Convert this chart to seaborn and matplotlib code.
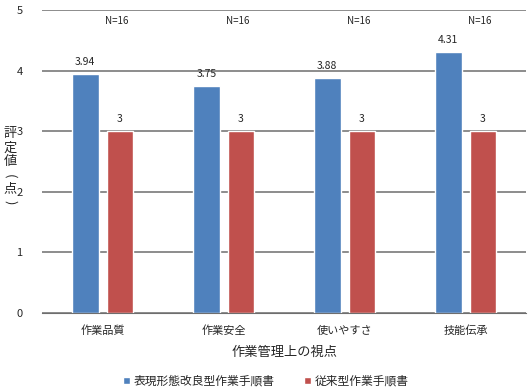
import pandas as pd
import seaborn as sns
import matplotlib.pyplot as plt

categories = ["作業品質", "作業安全", "使いやすさ", "技能伝承"]
series_names = ["表現形態改良型作業手順書", "従来型作業手順書"]
improved = [3.94, 3.75, 3.88, 4.31]
conventional = [3, 3, 3, 3]
n_labels = ["N=16", "N=16", "N=16", "N=16"]
colors = ["#4F81BD", "#C0504D"]

df = pd.DataFrame({
    "cat": categories * 2,
    "series": [series_names[0]] * 4 + [series_names[1]] * 4,
    "value": improved + conventional,
})

sns.set_style("white")
plt.rcParams['font.family'] = ['Noto Sans CJK JP', 'DejaVu Sans']

fig = plt.figure(figsize=(5.32, 3.91), dpi=100)
ax = fig.add_axes([0.079, 0.1995, 0.91, 0.7745])

sns.barplot(data=df, x="cat", y="value", hue="series", palette=colors,
            width=0.57, gap=0.23, ax=ax, legend=True, saturation=1)

ax.set_ylim(0, 5)
ax.set_yticks([0, 1, 2, 3, 4, 5])
ax.yaxis.grid(True, color="#6e6e6e", linewidth=1.1)
ax.set_axisbelow(True)
for s in ["left", "right", "top"]:
    ax.spines[s].set_visible(False)
ax.spines["bottom"].set_color("#6e6e6e")
ax.tick_params(axis="both", length=0, labelsize=8)
ax.tick_params(axis="y", pad=14)
ax.tick_params(axis="x", pad=9)

for cont, vals in zip(ax.containers, [improved, conventional]):
    ax.bar_label(cont, labels=[f"{v:g}" for v in vals], padding=5, fontsize=7.5)

for i, lab in enumerate(n_labels):
    ax.text(i + 0.12, 4.82, lab, ha="center", va="center", fontsize=7)

ax.set_xlabel("作業管理上の視点", fontsize=9.5, labelpad=7)
ax.set_ylabel("")

# vertical y label, one character at a time (parentheses turned sideways)
ychars = ["評", "定", "値", "(", "点", ")"]
ypix = [133, 148, 162, 176, 189, 202]
for ch, yp in zip(ychars, ypix):
    rot = -90 if ch in "()" else 0
    fig.text(10 / 532, 1 - yp / 391, ch, ha="center", va="center",
             fontsize=9.5, rotation=rot)

leg = ax.legend(loc="center", bbox_to_anchor=(0.5, 0.025), bbox_transform=fig.transFigure,
                ncol=2, frameon=False, fontsize=8.5, handlelength=0.6, handleheight=0.6,
                handletextpad=0.3, columnspacing=2.5)

fig.savefig("out.png", dpi=100)
